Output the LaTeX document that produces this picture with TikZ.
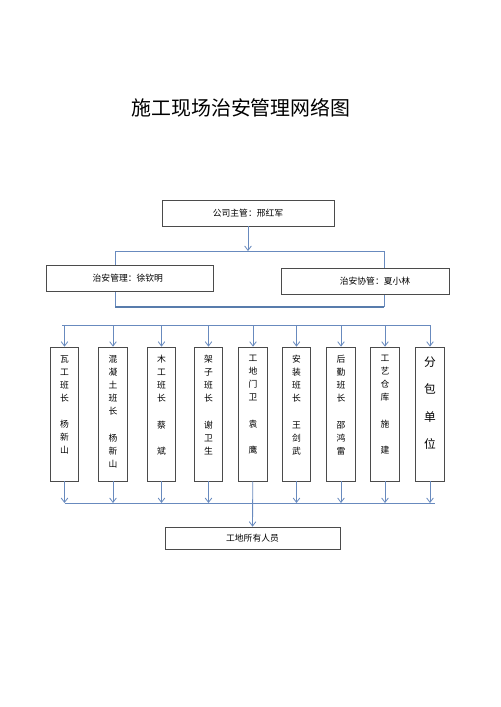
\documentclass[tikz,border=0pt]{standalone}
\usepackage{fontspec}
\setmainfont{Noto Sans CJK SC}
\usepackage{tikz}
\usetikzlibrary{arrows.meta}
\definecolor{linkblue}{RGB}{104,138,190}
\definecolor{framblue}{RGB}{88,124,172}
\definecolor{boxgray}{RGB}{75,75,75}
\tikzstyle{block} = [draw=boxgray,rectangle,line width=0.6pt,fill=white,inner sep=0pt,
                     font=\fontsize{7.5}{9}\selectfont]
\tikzstyle{post} = [block,minimum width=0.86cm,minimum height=4.02cm]
\tikzstyle{names} = [align=center,inner sep=0pt,font=\fontsize{7.5}{11.2}\selectfont]
\tikzstyle{line} = [draw=linkblue,line width=0.7pt]
\tikzstyle{connector} = [line,->]

\begin{document}
\begin{tikzpicture}[x=0.03cm,y=-0.03cm,>={Straight Barb[length=1.3mm,width=2mm]}]
    \useasboundingbox (0,0) rectangle (500,707);
    % title
    \node[font=\fontsize{17}{20}\selectfont] (title) at (241,108) {施工现场治安管理网络图};
    % company level
    \node[block,minimum width=5.16cm,minimum height=0.78cm] (boss) at (248,213) {公司主管：邢红军};
    % frame round the two managers
    \coordinate (fl) at (115,251);
    \coordinate (fr) at (384,307);
    \draw [line] (fl |- fr) -- (fl) -- (fr |- fl) -- (fr);
    \draw [draw=framblue,line width=1.4pt] (fl |- fr) -- (fr);
    \draw [connector] (boss) -- (boss |- fl);
    \node[block,minimum width=5.01cm,minimum height=0.78cm] (mgr1) at (129.5,278) {\hspace*{-0.1cm}治安管理：徐钦明};
    \node[block,minimum width=5.04cm,minimum height=0.78cm] (mgr2) at (365,281) {\hspace*{0.6cm}治安协管：夏小林};
    % team leaders
    \node[post] (wa) at (64.5,414) {};
    \node[post] (hnt) at (113,414) {};
    \node[post] (mu) at (161.5,414) {};
    \node[post] (jz) at (208.5,414) {};
    \node[post] (mw) at (253,414) {};
    \node[post] (az) at (296.5,414) {};
    \node[post] (hq) at (341,414) {};
    \node[post] (ck) at (385,414) {};
    \node[post] (fb) at (430,414) {};
    \node[names,anchor=north] at ([yshift=-0.25cm]wa.north) {瓦\\工\\班\\长\\\mbox{}\\杨\\新\\山};
    \node[names,anchor=north] at ([yshift=-0.25cm]hnt.north) {混\\凝\\土\\班\\长\\\mbox{}\\杨\\新\\山};
    \node[names,anchor=north] at ([yshift=-0.25cm]mu.north) {木\\工\\班\\长\\\mbox{}\\蔡\\\mbox{}\\斌};
    \node[names,anchor=north] at ([yshift=-0.25cm]jz.north) {架\\子\\班\\长\\\mbox{}\\谢\\卫\\生};
    \node[names,anchor=north] at ([yshift=-0.25cm]mw.north) {工\\地\\门\\卫\\\mbox{}\\袁\\\mbox{}\\鹰};
    \node[names,anchor=north] at ([yshift=-0.25cm]az.north) {安\\装\\班\\长\\\mbox{}\\王\\剑\\武};
    \node[names,anchor=north] at ([yshift=-0.25cm]hq.north) {后\\勤\\班\\长\\\mbox{}\\邵\\鸿\\雷};
    \node[names,anchor=north] at ([yshift=-0.25cm]ck.north) {工\\艺\\仓\\库\\\mbox{}\\施\\\mbox{}\\建};
    \node[names,anchor=north,font=\fontsize{10}{23.4}\selectfont] at ([yshift=-0.3cm]fb.north) {分\\包\\单\\位};
    % everybody on site
    \node[block,minimum width=5.25cm,minimum height=0.66cm] (all) at (252.5,538) {工地所有人员};
    % now link the nodes
    \coordinate (tl) at (62,325);
    \coordinate (tr) at (431,325);
    \coordinate (bl) at (65,503);
    \coordinate (br) at (435,503);
    \draw [line] (tl) -- (tr);
    \draw [line] (bl) -- (br);
    \draw [connector] (wa.north |- tl) -- (wa);
    \draw [connector] (hnt.north |- tl) -- (hnt);
    \draw [connector] (mu.north |- tl) -- (mu);
    \draw [connector] (jz.north |- tl) -- (jz);
    \draw [connector] (mw.north |- tl) -- (mw);
    \draw [connector] (az.north |- tl) -- (az);
    \draw [connector] (hq.north |- tl) -- (hq);
    \draw [connector] (ck.north |- tl) -- (ck);
    \draw [connector] (fb.north |- tl) -- (fb);
    \draw [connector] (wa) -- (wa.south |- bl);
    \draw [connector] (hnt) -- (hnt.south |- bl);
    \draw [connector] (mu) -- (mu.south |- bl);
    \draw [connector] (jz) -- (jz.south |- bl);
    \draw [connector] (az) -- (az.south |- bl);
    \draw [connector] (hq) -- (hq.south |- bl);
    \draw [connector] (ck) -- (ck.south |- bl);
    \draw [connector] (fb) -- (fb.south |- bl);
    \draw [connector] (mw) -- (all);
\end{tikzpicture}
\end{document}
